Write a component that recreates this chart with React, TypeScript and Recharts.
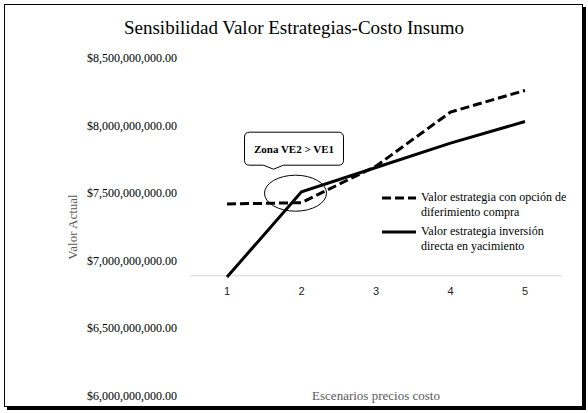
import { LineChart, Line, XAxis, YAxis, ReferenceLine, ReferenceDot, Legend } from 'recharts';

const escenarios = [1, 2, 3, 4, 5];
const valorDiferimiento = [7.42e9, 7.43e9, 7.7e9, 8.1e9, 8.26e9];
const valorDirecta = [6.88e9, 7.51e9, 7.69e9, 7.87e9, 8.03e9];
const yTicks = [6.0e9, 6.5e9, 7.0e9, 7.5e9, 8.0e9, 8.5e9];
const ejeCruce = 6.89e9;
const zonaEscenario = 2;
const zonaValor = 7.5e9;
const zonaTexto = 'Zona VE2 > VE1';

const data = escenarios.map((e, i) => ({
    escenario: e,
    diferimiento: valorDiferimiento[i],
    directa: valorDirecta[i],
}));

const serif = '"Liberation Serif", "Times New Roman", serif';

const formatMoney = (v: number) =>
    '$' + v.toLocaleString('en-US', { minimumFractionDigits: 2, maximumFractionDigits: 2 });

function XTickLabel(props: any) {
    const { cx, cy, label } = props;
    return (
        <text
            x={cx}
            y={cy + 19}
            textAnchor="middle"
            style={{ fontFamily: '"Liberation Sans", Arial, sans-serif', fontSize: 11, fill: '#222' }}
        >
            {label}
        </text>
    );
}

function YTickLabel(props: any) {
    const { x, y, payload } = props;
    return (
        <text x={x} y={y + 4} textAnchor="end" style={{ fontFamily: serif, fontSize: 12, fill: '#000' }}>
            {formatMoney(payload.value)}
        </text>
    );
}

function ZonaShape(props: any) {
    const { cx, cy } = props;
    const ex = cx - 6;
    const bx = ex - 51;
    const by = cy - 61;
    const bw = 99;
    const bh = 33;
    const r = 5;
    const tipX = ex - 22;
    const path = `M ${bx + r} ${by} H ${bx + bw - r} Q ${bx + bw} ${by} ${bx + bw} ${by + r} V ${by + bh - r} Q ${bx + bw} ${by + bh} ${bx + bw - r} ${by + bh} H ${tipX + 10} L ${tipX} ${by + bh + 4} L ${tipX - 10} ${by + bh} H ${bx + r} Q ${bx} ${by + bh} ${bx} ${by + bh - r} V ${by + r} Q ${bx} ${by} ${bx + r} ${by} Z`;
    return (
        <g>
            <ellipse cx={ex} cy={cy} rx={31} ry={18} fill="none" stroke="#000" strokeWidth={1} />
            <path d={path} fill="#fff" stroke="#000" strokeWidth={1} />
            <text
                x={bx + bw / 2}
                y={by + bh / 2 + 4}
                textAnchor="middle"
                style={{ fontFamily: serif, fontWeight: 'bold', fontSize: 11, fill: '#000' }}
            >
                {zonaTexto}
            </text>
        </g>
    );
}

function CustomLegend() {
    const item = (dash: string | undefined, lines: string[]) => (
        <div style={{ display: 'flex', alignItems: 'flex-start', marginBottom: 4 }}>
            <svg width={40} height={14} style={{ flexShrink: 0, marginTop: 1 }}>
                <line x1={1} y1={7} x2={35} y2={7} stroke="#000" strokeWidth={3} strokeDasharray={dash} />
            </svg>
            <div style={{ fontFamily: serif, fontSize: 12, lineHeight: '15px', color: '#000', textAlign: 'left' }}>
                {lines.map((l) => (
                    <div key={l}>{l}</div>
                ))}
            </div>
        </div>
    );
    return (
        <div>
            {item('9 4', ['Valor estrategia con opción de', 'diferimiento compra'])}
            {item(undefined, ['Valor estrategia inversión', 'directa en yacimiento'])}
        </div>
    );
}

export default function App() {
    return (
        <div style={{ position: 'absolute', left: 0, top: 0, width: 588, height: 413, background: '#fff', fontFamily: serif }}>
            <div
                style={{
                    position: 'absolute',
                    left: 4,
                    top: 4,
                    width: 577,
                    height: 401,
                    border: '1px solid #000',
                    boxShadow: '3px 3px 0 #000',
                }}
            />
            <div
                style={{
                    position: 'absolute',
                    left: 0,
                    top: 17,
                    width: 588,
                    textAlign: 'center',
                    fontFamily: serif,
                    fontSize: 19,
                    color: '#000',
                }}
            >
                Sensibilidad Valor Estrategias-Costo Insumo
            </div>
            <div style={{ position: 'absolute', left: 0, top: 0 }}>
                <LineChart width={588} height={413} data={data} margin={{ top: 58, right: 26, bottom: 17, left: 0 }}>
                    <XAxis dataKey="escenario" type="category" hide padding={{ left: 37, right: 37 }} />
                    <YAxis
                        width={190}
                        domain={[6.0e9, 8.5e9]}
                        ticks={yTicks}
                        axisLine={false}
                        tickLine={false}
                        tickMargin={7}
                        tick={<YTickLabel />}
                        label={{
                            value: 'Valor Actual',
                            angle: -90,
                            position: 'insideLeft',
                            offset: 72,
                            style: { fontFamily: serif, fontSize: 13, fill: '#595959', textAnchor: 'middle' },
                        }}
                    />
                    <ReferenceLine y={ejeCruce} stroke="#d9d9d9" strokeWidth={1} />
                    {escenarios.map((e) => (
                        <ReferenceDot
                            key={e}
                            x={e}
                            y={ejeCruce}
                            shape={(p: any) => <XTickLabel {...p} label={String(e)} />}
                        />
                    ))}
                    <Line
                        type="linear"
                        dataKey="diferimiento"
                        stroke="#000"
                        strokeWidth={3}
                        strokeDasharray="9 4"
                        dot={false}
                        isAnimationActive={false}
                    />
                    <Line
                        type="linear"
                        dataKey="directa"
                        stroke="#000"
                        strokeWidth={3}
                        dot={false}
                        isAnimationActive={false}
                    />
                    <ReferenceDot x={zonaEscenario} y={zonaValor} shape={(p: any) => <ZonaShape {...p} />} />
                    <Legend
                        layout="vertical"
                        align="center"
                        verticalAlign="middle"
                        content={<CustomLegend />}
                        wrapperStyle={{ position: 'absolute', left: 381, top: 190, width: 200 }}
                    />
                </LineChart>
            </div>
            <div
                style={{
                    position: 'absolute',
                    left: 190,
                    top: 388,
                    width: 372,
                    textAlign: 'center',
                    fontFamily: serif,
                    fontSize: 13,
                    color: '#595959',
                }}
            >
                Escenarios precios costo
            </div>
        </div>
    );
}
